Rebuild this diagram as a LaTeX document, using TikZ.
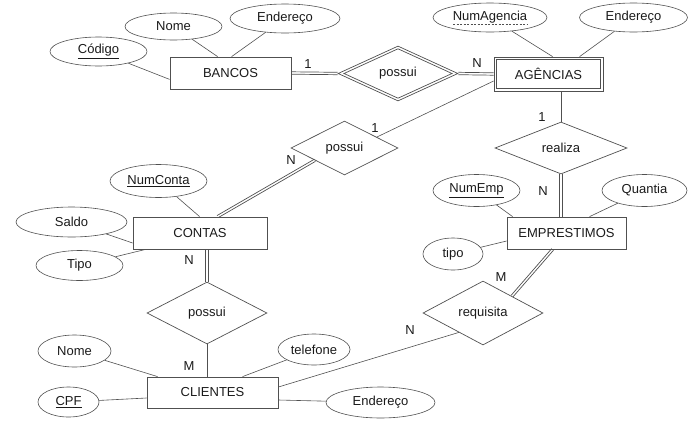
\documentclass[tikz,border=0pt]{standalone}
\usepackage{fontspec}
\setmainfont{Liberation Sans}
\usetikzlibrary{shapes.geometric,calc}
\definecolor{ln}{HTML}{505050}
\definecolor{tx}{HTML}{1A1A1A}
\tikzset{
  base/.style={font=\fontsize{13}{15}\selectfont, text=tx, inner sep=0pt},
  ent/.style={base, draw=ln, line width=0.8pt, rectangle},
  attr/.style={base, draw=ln, line width=0.6pt, ellipse},
  rel/.style={base, draw=ln, line width=0.7pt, diamond, aspect=2.5},
  conn/.style={draw=ln, line width=0.6pt},
  dline/.style={draw=ln, line width=0.7pt}
}
\begin{document}
\begin{tikzpicture}[x=1pt,y=-1pt]
\useasboundingbox (0,0) rectangle (699,426);
% entities
\node[ent, minimum width=121pt, minimum height=32pt] (bancos) at (230.5,73) {BANCOS};
\node[ent, minimum width=109pt, minimum height=34pt] (ag) at (548.5,74) {AGÊNCIAS};
\draw[dline] ([shift={(3,3)}]ag.north west) rectangle ([shift={(-3,-3)}]ag.south east);
\node[ent, minimum width=134pt, minimum height=32pt] (contas) at (200,233) {CONTAS};
\node[ent, minimum width=119pt, minimum height=32pt] (emp) at (566.5,233) {EMPRESTIMOS};
\node[ent, minimum width=131pt, minimum height=31pt] (cli) at (212.5,392.5) {CLIENTES};
% relationships
\node[rel, minimum width=120pt, minimum height=55pt] (pos1) at (398,73.5) {possui};
\draw[dline] ([shift={(-54,0)}]pos1.center) -- ([shift={(0,-24.7)}]pos1.center) -- ([shift={(54,0)}]pos1.center) -- ([shift={(0,24.7)}]pos1.center) -- cycle;
\node[rel, minimum width=107pt, minimum height=54pt] (pos2) at (344.5,148) {possui};
\node[rel, minimum width=132pt, minimum height=52pt] (rea) at (561,148) {realiza};
\node[rel, minimum width=120pt, minimum height=62pt] (pos3) at (207,313) {possui};
\node[rel, minimum width=120pt, minimum height=64pt] (req) at (483,313) {requisita};
% attributes
\node[attr, minimum width=97pt, minimum height=29pt] (cod) at (98.5,51.5) {\underline{Código}};
\node[attr, minimum width=97pt, minimum height=27pt] (nome1) at (173.5,26.5) {Nome};
\node[attr, minimum width=110pt, minimum height=29pt] (end1) at (285,18.5) {Endereço};
\node[attr, minimum width=114pt, minimum height=29pt] (numag) at (490,17.5) {NumAgencia};
\draw[ln, line width=0.6pt, dash pattern=on 2pt off 1.5pt] ($(numag.center)+(-37,7)$) -- ($(numag.center)+(37,7)$);
\node[attr, minimum width=108pt, minimum height=29pt] (end2) at (633.5,17.5) {Endereço};
\node[attr, minimum width=97pt, minimum height=33pt] (numconta) at (158.5,181) {\underline{NumConta}};
\node[attr, minimum width=111pt, minimum height=30pt] (saldo) at (71.5,222) {Saldo};
\node[attr, minimum width=87pt, minimum height=30pt] (tipo1) at (79.5,265.5) {Tipo};
\node[attr, minimum width=87pt, minimum height=32pt] (numemp) at (476.5,190.5) {\underline{NumEmp}};
\node[attr, minimum width=85pt, minimum height=32pt] (quantia) at (644.5,190.5) {Quantia};
\node[attr, minimum width=60pt, minimum height=32pt] (tipo2) at (453,254) {tipo};
\node[attr, minimum width=73pt, minimum height=32pt] (nome2) at (74.5,351) {Nome};
\node[attr, minimum width=61pt, minimum height=30pt] (cpf) at (68.5,402) {\underline{CPF}};
\node[attr, minimum width=72pt, minimum height=31pt] (tel) at (314,349.5) {telefone};
\node[attr, minimum width=109pt, minimum height=31pt] (end3) at (380.5,402.5) {Endereço};
% attribute links
\draw[conn] (cod) -- ($(bancos.south west)+(0,-10)$);
\draw[conn] (nome1) -- ($(bancos.north west)+(48,0)$);
\draw[conn] (end1) -- ($(bancos.north west)+(62,0)$);
\draw[conn] (numag) -- ($(ag.north west)+(59,0)$);
\draw[conn] (end2) -- ($(ag.north west)+(86,0)$);
\draw[conn] (numconta) -- ($(contas.north west)+(67,0)$);
\draw[conn] (saldo) -- ($(contas.west)+(0,10)$);
\draw[conn] (tipo1) -- ($(contas.south west)+(13,0)$);
\draw[conn] (numemp) -- ($(emp.north west)+(6,0)$);
\draw[conn] (quantia) -- ($(emp.north west)+(83,0)$);
\draw[conn] (tipo2) -- ($(emp.west)+(0,8)$);
\draw[conn] (nome2) -- ($(cli.north west)+(11,0)$);
\draw[conn] (cpf) -- ($(cli.west)+(0,5.5)$);
\draw[conn] (tel) -- ($(cli.north west)+(96,0)$);
\draw[conn] (end3) -- ($(cli.east)+(0,7.5)$);
% relationship link end points
\coordinate (reaS) at (rea.south);
\coordinate (empN) at (rea.south |- emp.north);
\coordinate (pos3N) at (pos3.north);
\coordinate (contasS) at (pos3.north |- contas.south);
\coordinate (pos2SW) at ($(pos2.west)!0.45!(pos2.south)$);
\coordinate (contasN) at ($(contas.north west)+(85,0)$);
\coordinate (empS) at ($(emp.south west)+(46,0)$);
\coordinate (reqNE) at ($(req.north)!0.48!(req.east)$);
% double connectors (two parallel lines)
\foreach \s in {-1.2,1.2}{
  \draw[dline] ([yshift=\s]bancos.east) -- ([yshift=\s]pos1.west);
  \draw[dline] ([yshift=\s]pos1.east) -- ([yshift=\s]ag.west);
  \draw[dline] ([xshift=\s]reaS) -- ([xshift=\s]empN);
  \draw[dline] ([xshift=\s]pos3N) -- ([xshift=\s]contasS);
  \draw[dline] ([shift={(0.51*\s,0.86*\s)}]pos2SW) -- ([shift={(0.51*\s,0.86*\s)}]contasN);
  \draw[dline] ([shift={(0.75*\s,0.66*\s)}]empS) -- ([shift={(0.75*\s,0.66*\s)}]reqNE);
}
% single connectors
\draw[conn] ($(pos2.north)!0.6!(pos2.east)$) -- ($(ag.west)+(0,7)$);
\draw[conn] (rea.north) -- (rea.north |- ag.south);
\draw[conn] ($(req.west)!0.6!(req.south)$) -- ($(cli.east)+(0,-5.5)$);
\draw[conn] (pos3.south) -- (pos3.south |- cli.north);
% cardinalities
\node[base] (c1) at (308,64) {1};
\node[base] (c2) at (477,63) {N};
\node[base] (c3) at (375,128) {1};
\node[base] (c4) at (291,160) {N};
\node[base] (c5) at (542,117) {1};
\node[base] (c6) at (543,191) {N};
\node[base] (c7) at (501,277) {M};
\node[base] (c8) at (410,330) {N};
\node[base] (c9) at (189,260) {N};
\node[base] (c10) at (189,366) {M};
\end{tikzpicture}
\end{document}
